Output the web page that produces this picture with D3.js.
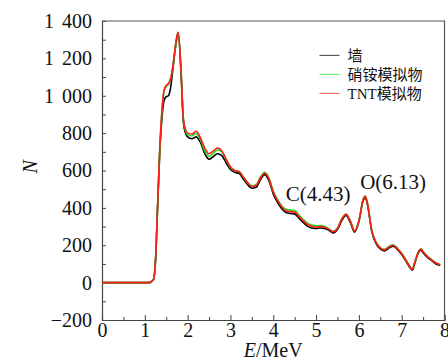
<!DOCTYPE html>
<html>
<head>
<meta charset="utf-8">
<script src="https://cdn.jsdelivr.net/npm/d3@7"></script>
<style>
  body { margin: 0; background: #fff; }
  svg { display: block; }
</style>
</head>
<body>
<div id="chart"></div>
<script>
// energy grid (MeV)
const energy = [0, 1.1, 1.2, 1.25, 1.3, 1.35, 1.4, 1.45, 1.5, 1.55,
  1.6, 1.65, 1.7, 1.75, 1.78, 1.85, 1.9, 1.95, 2.0,
  2.1, 2.2, 2.3, 2.4, 2.5, 2.6, 2.7, 2.8, 2.9, 3.0,
  3.1, 3.2, 3.3, 3.4, 3.5, 3.6, 3.7, 3.8, 3.9, 4.0,
  4.1, 4.2, 4.3, 4.4, 4.5, 4.6, 4.7, 4.8, 4.9, 5.0,
  5.1, 5.2, 5.3, 5.4, 5.5, 5.6, 5.7, 5.8, 5.9, 6.0,
  6.1, 6.15, 6.2, 6.3, 6.4, 6.5, 6.6, 6.7, 6.8, 6.9, 7.0,
  7.1, 7.2, 7.25, 7.3, 7.4, 7.45, 7.5, 7.6, 7.7, 7.8, 7.9];

// 墙
const wall = [0, 0, 15, 115, 410, 700, 880, 975, 995, 1000,
  1040, 1130, 1230, 1310, 1335, 1100, 860, 800, 780,
  770, 780, 750, 690, 660, 675, 690, 680, 640, 605,
  590, 585, 555, 525, 505, 510, 550, 578, 545, 475,
  430, 395, 375, 370, 368, 345, 322, 302, 292, 290,
  292, 290, 280, 266, 284, 332, 360, 322, 270, 325,
  438, 455, 418, 275, 210, 180, 170, 185, 195, 178, 150,
  115, 78, 66, 100, 163, 175, 160, 135, 118, 100, 92];

// 硝铵模拟物
const ammonium = [0, 0, 15, 120, 418, 715, 915, 1025, 1050, 1060,
  1085, 1145, 1235, 1315, 1338, 1115, 875, 812, 792,
  785, 798, 765, 705, 676, 692, 710, 700, 658, 618,
  600, 595, 566, 537, 518, 524, 565, 590, 560, 490,
  445, 410, 392, 388, 386, 362, 338, 318, 308, 304,
  305, 300, 288, 274, 292, 342, 366, 331, 276, 332,
  446, 463, 426, 282, 218, 188, 178, 193, 203, 184, 157,
  121, 83, 71, 106, 169, 181, 166, 141, 123, 106, 96];

// TNT模拟物
const tnt = [0, 0, 15, 120, 420, 720, 920, 1030, 1055, 1065,
  1090, 1150, 1240, 1320, 1340, 1120, 880, 820, 800,
  795, 810, 775, 720, 690, 705, 720, 705, 660, 620,
  600, 595, 565, 535, 515, 520, 560, 585, 555, 485,
  440, 405, 385, 380, 378, 355, 330, 312, 302, 298,
  300, 296, 285, 272, 290, 340, 365, 330, 275, 330,
  445, 462, 425, 280, 215, 185, 175, 190, 200, 182, 155,
  120, 82, 70, 105, 168, 180, 165, 140, 122, 105, 95];

const seriesNames = ['墙', '硝铵模拟物', 'TNT模拟物'];
const seriesColors = ['#000000', '#1fe01f', '#ff1a1a'];
const seriesValues = [wall, ammonium, tnt];

const xTicks = [0, 1, 2, 3, 4, 5, 6, 7, 8];
const yTicks = [-200, 0, 200, 400, 600, 800, 1000, 1200, 1400];

// label text with the (E, N) point where its baseline centre sits
const peakLabels = [
  { text: 'C(4.43)', e: 5.05, n: 436 },
  { text: 'O(6.13)', e: 6.8, n: 500 }
];

const SERIF = '"Liberation Serif", "Times New Roman", serif';
const CJK = '"Liberation Serif", "Noto Sans CJK SC", serif';

const W = 448, H = 360;
const margin = { top: 21, right: 3.5, bottom: 40, left: 102 };
const width = W - margin.left - margin.right;
const height = H - margin.top - margin.bottom;

const svg = d3.select('#chart')
  .append('svg')
  .attr('width', W)
  .attr('height', H)
  .append('g')
  .attr('transform', `translate(${margin.left},${margin.top})`);

const x = d3.scaleLinear().domain([0, 8]).range([0, width]);
const y = d3.scaleLinear().domain([-200, 1400]).range([height, 0]);

const fmt = v => d3.format(',')(v).replace(',', '\u2009\u2009');

// minor ticks
svg.append('g')
  .attr('transform', `translate(0,${height})`)
  .call(d3.axisBottom(x).tickValues(d3.range(0.5, 8, 1)).tickSize(-3).tickFormat(''))
  .call(g => g.select('.domain').remove());
svg.append('g')
  .call(d3.axisLeft(y).tickValues(d3.range(-100, 1400, 200)).tickSize(-4).tickFormat(''))
  .call(g => g.select('.domain').remove());

svg.append('g')
  .attr('transform', `translate(0,${height})`)
  .call(d3.axisBottom(x).tickValues(xTicks).tickSize(-5).tickPadding(3).tickFormat(d3.format('d')));
svg.append('g')
  .call(d3.axisLeft(y).tickValues(yTicks).tickSize(-4).tickPadding(10).tickFormat(fmt));

svg.selectAll('.tick line').attr('stroke', '#444');
svg.selectAll('.domain').attr('stroke', '#444').attr('stroke-width', 1.2);
svg.selectAll('.tick text')
  .attr('font-family', SERIF)
  .attr('font-size', 20)
  .attr('fill', '#111');

// frame top/right
svg.append('path')
  .attr('d', `M0,0H${width}V${height}`)
  .attr('fill', 'none')
  .attr('stroke', '#555')
  .attr('stroke-width', 1.2);

// series
const line = d3.line()
  .x((d, i) => x(energy[i]))
  .y(d => y(d))
  .curve(d3.curveMonotoneX);

seriesValues.forEach((vals, k) => {
  svg.append('path')
    .datum(vals)
    .attr('d', line)
    .attr('fill', 'none')
    .attr('stroke', seriesColors[k])
    .attr('stroke-width', 1.6)
    .attr('stroke-linejoin', 'round');
});

// legend
const legend = svg.append('g').attr('transform', `translate(${x(5.08)},${y(1216)})`);
seriesNames.forEach((name, i) => {
  const row = legend.append('g').attr('transform', `translate(0,${i * 19})`);
  row.append('line')
    .attr('x1', 0).attr('x2', 20)
    .attr('stroke', seriesColors[i])
    .attr('stroke-opacity', 0.75)
    .attr('stroke-width', 1);
  row.append('text')
    .attr('x', 28)
    .attr('dy', '0.36em')
    .attr('font-family', CJK)
    .attr('font-size', 15)
    .attr('fill', '#111')
    .text(name);
});

// peak annotations
svg.selectAll('.peak')
  .data(peakLabels)
  .enter()
  .append('text')
  .attr('class', 'peak')
  .attr('x', d => x(d.e))
  .attr('y', d => y(d.n))
  .attr('text-anchor', 'middle')
  .attr('font-family', SERIF)
  .attr('font-size', 21)
  .attr('fill', '#111')
  .text(d => d.text);

// axis titles
const xTitle = svg.append('text')
  .attr('x', width / 2)
  .attr('y', height + 37)
  .attr('text-anchor', 'middle')
  .attr('font-family', SERIF)
  .attr('font-size', 20)
  .attr('fill', '#111');
xTitle.append('tspan').attr('font-style', 'italic').text('E');
xTitle.append('tspan').text('/MeV');

svg.append('text')
  .attr('transform', `translate(${-72},${y(620)}) rotate(-90)`)
  .attr('text-anchor', 'middle')
  .attr('dy', '0.35em')
  .attr('font-family', SERIF)
  .attr('font-size', 20)
  .attr('font-style', 'italic')
  .attr('fill', '#111')
  .text('N');
</script>
</body>
</html>
